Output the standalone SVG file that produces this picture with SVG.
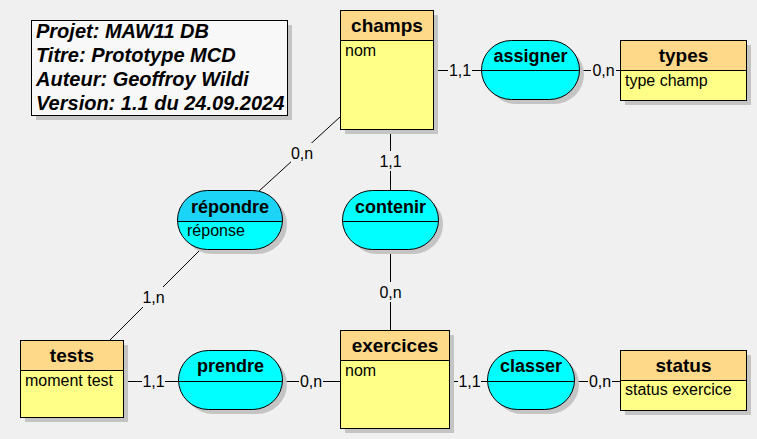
<svg xmlns="http://www.w3.org/2000/svg" width="757" height="439" viewBox="0 0 757 439">
<style>
.sh{fill:#C4C4C4}
.eh{fill:#FFD98A;stroke:#000;stroke-width:1}
.eb{fill:#FFFF88;stroke:#000;stroke-width:1}
.ab{fill:#00FFFF}
.ah{fill:#1CD4F5}
.ao{fill:none;stroke:#000;stroke-width:1}
.ln{stroke:#000;stroke-width:1;fill:none}
.lb{fill:#F0F0F0}
text{font-family:"Liberation Sans",Arial,sans-serif;fill:#000}
.et{font-size:19px;font-weight:bold;text-anchor:middle}
.at{font-size:18px;font-weight:bold;text-anchor:middle}
.attr{font-size:16px}
.card{font-size:16px;text-anchor:middle}
.title{font-size:20px;font-weight:bold;font-style:italic}
</style>
<defs>
<clipPath id="cRep"><rect x="177.5" y="190.5" width="105" height="59" rx="30" ry="29.5"/></clipPath>
</defs>
<rect x="0" y="0" width="757" height="439" fill="#F0F0F0"/>

<g id="title">
<rect class="sh" x="36" y="25" width="256" height="95"/>
<rect x="31.5" y="20.5" width="256" height="95" fill="#F8F8F8" stroke="#000"/>
<text class="title" x="36" y="38">Projet: MAW11 DB</text>
<text class="title" x="36" y="62">Titre: Prototype MCD</text>
<text class="title" x="36" y="86">Auteur: Geoffroy Wildi</text>
<text class="title" x="36" y="110">Version: 1.1 du 24.09.2024</text>
</g>

<g id="connectors">
<path class="ln" d="M433.5,70.5H481M579,70.5H620M390.5,129V190M390.5,249V330M340,117L258,192M202,248L110,340M123,381.5H178M282,381.5H340M449,381.5H487M574,381.5H620"/>
<rect class="lb" x="448" y="62" width="24" height="16"/>
<text class="card" x="460" y="76">1,1</text>
<rect class="lb" x="591" y="62" width="25" height="16"/>
<text class="card" x="603.5" y="76">0,n</text>
<rect class="lb" x="380" y="151" width="20" height="20"/>
<text class="card" x="390.5" y="167">1,1</text>
<rect class="lb" x="380" y="282" width="20" height="20"/>
<text class="card" x="390.5" y="298">0,n</text>
<rect class="lb" x="291" y="143" width="22" height="20"/>
<text class="card" x="302" y="159">0,n</text>
<rect class="lb" x="142" y="287" width="23" height="20"/>
<text class="card" x="153.5" y="303">1,n</text>
<rect class="lb" x="142" y="373" width="23" height="16"/>
<text class="card" x="153.5" y="387">1,1</text>
<rect class="lb" x="299" y="373" width="24" height="16"/>
<text class="card" x="311" y="387">0,n</text>
<rect class="lb" x="458" y="373" width="23" height="16"/>
<text class="card" x="469.5" y="387">1,1</text>
<rect class="lb" x="588" y="373" width="24" height="16"/>
<text class="card" x="600" y="387">0,n</text>
</g>

<g id="champs">
<rect class="sh" x="345" y="15" width="93" height="119"/>
<rect class="eb" x="340.5" y="10.5" width="93" height="119"/>
<rect class="eh" x="340.5" y="10.5" width="93" height="30"/>
<text class="et" x="387" y="32">champs</text>
<text class="attr" x="345" y="56">nom</text>
</g>

<g id="types">
<rect class="sh" x="625" y="45" width="126" height="60"/>
<rect class="eb" x="620.5" y="40.5" width="126" height="60"/>
<rect class="eh" x="620.5" y="40.5" width="126" height="30"/>
<text class="et" x="683.5" y="62">types</text>
<text class="attr" x="625" y="86">type champ</text>
</g>

<g id="tests">
<rect class="sh" x="25" y="345" width="103" height="77"/>
<rect class="eb" x="20.5" y="340.5" width="103" height="77"/>
<rect class="eh" x="20.5" y="340.5" width="103" height="30"/>
<text class="et" x="72" y="362">tests</text>
<text class="attr" x="25" y="386">moment test</text>
</g>

<g id="exercices">
<rect class="sh" x="345" y="335" width="109" height="98"/>
<rect class="eb" x="340.5" y="330.5" width="109" height="98"/>
<rect class="eh" x="340.5" y="330.5" width="109" height="30"/>
<text class="et" x="395" y="352">exercices</text>
<text class="attr" x="345" y="376">nom</text>
</g>

<g id="status">
<rect class="sh" x="625" y="355" width="126" height="60"/>
<rect class="eb" x="620.5" y="350.5" width="126" height="60"/>
<rect class="eh" x="620.5" y="350.5" width="126" height="30"/>
<text class="et" x="683.5" y="372">status</text>
<text class="attr" x="625" y="395">status exercice</text>
</g>

<g id="assigner">
<rect class="sh" x="486" y="45" width="98" height="59" rx="30" ry="29.5"/>
<rect class="ab" x="481.5" y="40.5" width="98" height="59" rx="30" ry="29.5"/>
<rect class="ao" x="481.5" y="40.5" width="98" height="59" rx="30" ry="29.5"/>
<path class="ln" d="M481.5,70.5H579.5"/>
<text class="at" x="530.5" y="62">assigner</text>
</g>

<g id="repondre">
<rect class="sh" x="182" y="195" width="105" height="59" rx="30" ry="29.5"/>
<rect class="ab" x="177.5" y="190.5" width="105" height="59" rx="30" ry="29.5"/>
<rect class="ah" x="177" y="190" width="106" height="31" clip-path="url(#cRep)"/>
<rect class="ao" x="177.5" y="190.5" width="105" height="59" rx="30" ry="29.5"/>
<path class="ln" d="M177.5,221.5H282.5"/>
<text class="at" x="230" y="213">répondre</text>
<text class="attr" x="187" y="236">réponse</text>
</g>

<g id="contenir">
<rect class="sh" x="347" y="195" width="96" height="59" rx="30" ry="29.5"/>
<rect class="ab" x="342.5" y="190.5" width="96" height="59" rx="30" ry="29.5"/>
<rect class="ao" x="342.5" y="190.5" width="96" height="59" rx="30" ry="29.5"/>
<path class="ln" d="M342.5,221.5H438.5"/>
<text class="at" x="390.5" y="213">contenir</text>
</g>

<g id="prendre">
<rect class="sh" x="183" y="355" width="104" height="59" rx="30" ry="29.5"/>
<rect class="ab" x="178.5" y="350.5" width="104" height="59" rx="30" ry="29.5"/>
<rect class="ao" x="178.5" y="350.5" width="104" height="59" rx="30" ry="29.5"/>
<path class="ln" d="M178.5,381.5H282.5"/>
<text class="at" x="230.5" y="372">prendre</text>
</g>

<g id="classer">
<rect class="sh" x="492" y="355" width="87" height="59" rx="30" ry="29.5"/>
<rect class="ab" x="487.5" y="350.5" width="87" height="59" rx="30" ry="29.5"/>
<rect class="ao" x="487.5" y="350.5" width="87" height="59" rx="30" ry="29.5"/>
<path class="ln" d="M487.5,381.5H574.5"/>
<text class="at" x="531" y="372">classer</text>
</g>
</svg>
